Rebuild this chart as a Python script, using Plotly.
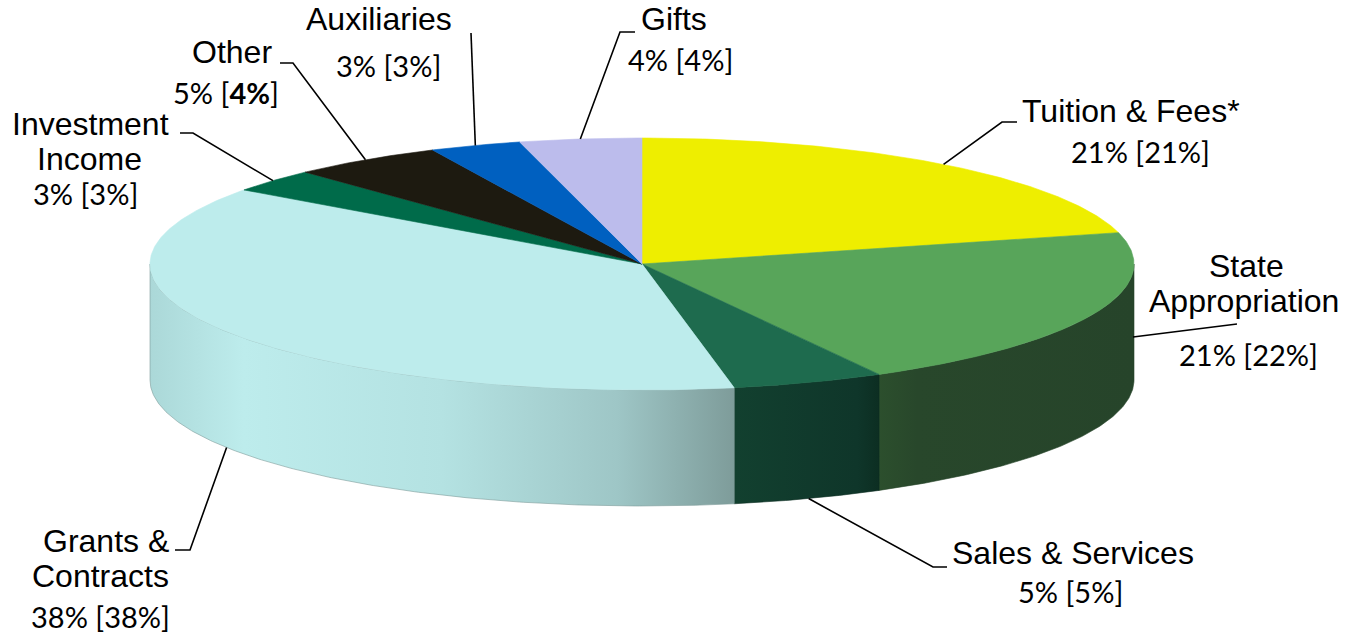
import numpy as np
import plotly.graph_objects as go

# ---------------- data ----------------
categories = ["Tuition & Fees*", "State Appropriation", "Sales & Services",
              "Grants & Contracts", "Investment Income", "Other",
              "Auxiliaries", "Gifts"]
name_lines = [["Tuition & Fees*"], ["State", "Appropriation"], ["Sales & Services"],
              ["Grants &", "Contracts"], ["Investment", "Income"], ["Other"],
              ["Auxiliaries"], ["Gifts"]]
current_pct = [21, 21, 5, 38, 3, 5, 3, 4]
prior_pct = [21, 22, 5, 38, 3, 4, 3, 4]

top_colors = ["#EEEE00", "#58A55A", "#1E6B4E", "#BDECEC",
              "#006B4A", "#1D1A10", "#0060C0", "#BCBCEC"]
side_scales = [
    [[0, "#B5B500"], [1, "#9A9A00"]],
    [[0, "#2C4F2D"], [0.15, "#28472B"], [1, "#26442A"]],
    [[0, "#12402F"], [0.85, "#0F362A"], [1, "#0C2E22"]],
    [[0, "#ABD8D8"], [0.16, "#BDECEC"], [0.5, "#B4E2E2"], [0.8, "#9EC6C6"], [1, "#7E9C9A"]],
    [[0, "#004A33"], [1, "#004A33"]],
    [[0, "#100E08"], [1, "#100E08"]],
    [[0, "#004080"], [1, "#004080"]],
    [[0, "#8A8AB0"], [1, "#8A8AB0"]],
]

# ---------------- geometry (layout) ----------------
W, H = 1346, 635
CX, CY, RX, RY, DEPTH = 642, 264, 492, 126, 116


def ell(theta_deg, dy=0.0):
    t = np.radians(theta_deg)
    return CX + RX * np.sin(t), CY - RY * np.cos(t) + dy


vals = np.array(current_pct, dtype=float)
ang = 360.0 * vals / vals.sum()
ends = np.cumsum(ang)
starts = ends - ang

fig = go.Figure()

# side walls (front half only: 90..270 deg, clockwise from top)
for i in range(len(vals)):
    lo, hi = max(starts[i], 90.0), min(ends[i], 270.0)
    if lo >= hi:
        continue
    th = np.linspace(lo, hi, max(int((hi - lo) * 2), 8))
    xt, yt = ell(th)
    xb, yb = ell(th[::-1], DEPTH)
    xs = np.concatenate([xt, xb, xt[:1]])
    ys = np.concatenate([yt, yb, yt[:1]])
    fig.add_trace(go.Scatter(
        x=xs, y=ys, mode="lines", fill="toself",
        line=dict(width=0.6, color=side_scales[i][-1][1]),
        fillgradient=dict(type="horizontal", colorscale=side_scales[i]),
        hoverinfo="skip", showlegend=False))

# top faces
for i in range(len(vals)):
    th = np.linspace(starts[i], ends[i], max(int(ang[i] * 2), 8))
    xa, ya = ell(th)
    xs = np.concatenate([[CX], xa, [CX]])
    ys = np.concatenate([[CY], ya, [CY]])
    fig.add_trace(go.Scatter(
        x=xs, y=ys, mode="lines", fill="toself",
        fillcolor=top_colors[i], line=dict(width=0.6, color=top_colors[i]),
        hoverinfo="skip", showlegend=False))

# leader lines: anchor at the slice mid-angle, elbow + end from label layout
mid = (starts + ends) / 2
elbows = [(1002, 122), (1237, 324), (933, 567), (190, 550),
          (193, 133), (293, 63), (471, 33), (620, 32)]
line_ends = [(1017, 122), None, (947, 567), (175, 550),
             (180, 133), (280, 63), None, (635, 32)]
for i in range(len(vals)):
    front = np.cos(np.radians(mid[i])) < 0
    ax, ay = ell(mid[i], DEPTH if front else 0)
    if i == 1:  # state appropriation line leaves from the right side wall
        ax, ay = CX + RX - 1, CY + 73
    pts = [(ax, ay), elbows[i]]
    if line_ends[i] is not None:
        pts.append(line_ends[i])
    fig.add_trace(go.Scatter(
        x=[p[0] for p in pts], y=[p[1] for p in pts], mode="lines",
        line=dict(color="black", width=1.6), hoverinfo="skip",
        showlegend=False))

# labels
name_pos = [(1131, 111), (1246, 266), (1073, 553), (104, 541),
            (90, 124), (232, 52), (379, 19), (674, 19)]
name_xs = [[1131], [1246, 1244], [1073], [106, 100], [90, 89], [232], [379], [674]]
LINE_GAP = 35
pct_pos = [(1140, 151), (1248, 354), (1070, 591), (100, 616),
           (85, 193), (226, 92), (388, 65), (680, 59)]
NAME_FONT = dict(family="Liberation Sans, Arial, sans-serif", size=32, color="black")
PCT_FONT = dict(family="Lato, Carlito, sans-serif", size=29, color="black")
for i in range(len(vals)):
    _, ny = name_pos[i]
    for k, txt in enumerate(name_lines[i]):
        fig.add_annotation(x=name_xs[i][k], y=ny + k * LINE_GAP, text=txt,
                           showarrow=False, xanchor="center", yanchor="middle",
                           font=NAME_FONT)
    px, py = pct_pos[i]
    prior_txt = f"{prior_pct[i]}%"
    if categories[i] == "Other":
        prior_txt = f"<b>{prior_txt}</b>"
    fig.add_annotation(x=px, y=py, text=f"{current_pct[i]}% [{prior_txt}]",
                       showarrow=False, xanchor="center", yanchor="middle",
                       font=PCT_FONT)

fig.update_layout(
    width=W, height=H, margin=dict(l=0, r=0, t=0, b=0),
    paper_bgcolor="white", plot_bgcolor="white", hovermode=False,
    xaxis=dict(range=[0, W], visible=False, fixedrange=True),
    yaxis=dict(range=[H, 0], visible=False, fixedrange=True),
    showlegend=False,
)

fig.write_html("out.html", config={"displayModeBar": False})
